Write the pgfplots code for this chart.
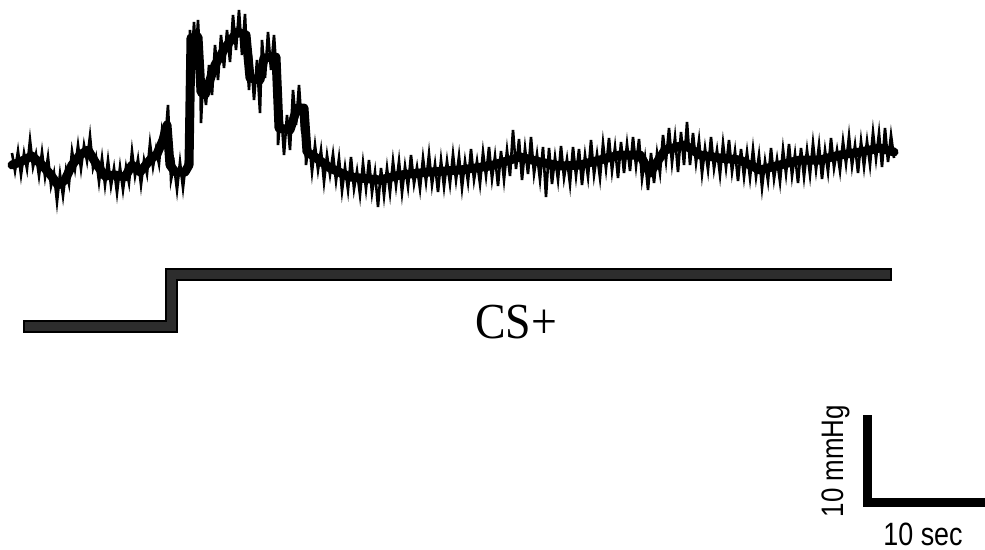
\documentclass[border=0pt]{standalone}
\usepackage{pgfplots}
\pgfplotsset{compat=1.18}
\usepackage{fontspec}
\setmainfont{Liberation Serif}
\newfontfamily\arialfont{Liberation Sans}
\definecolor{stepfill}{RGB}{45,45,45}
\begin{document}
\begin{tikzpicture}
\useasboundingbox (0,0) rectangle (985bp,550bp);
\begin{axis}[at={(0,0)}, anchor=south west, scale only axis,
  width=985bp, height=550bp, xmin=0, xmax=985, ymin=0, ymax=550,
  y dir=reverse, hide axis, clip=false]
% core of the trace
\addplot[black, line width=9bp, line join=round, line cap=round] coordinates {
(12,165)(20,162)(32,156)(42,165)(50,174)(58,185)(65,180)(72,165)(80,155)(88,150)(97,165)(105,176)(115,175)(125,177)(132,165)(140,172)(150,160)(157,154)(163,140)(167,125)(170,165)(175,172)(185,172)(189,165)(191,38)(198,37)(201,92)(205,95)(215,65)(225,48)(237,32)(246,35)(250,78)(260,80)(264,58)(276,57)(279,128)(290,130)(297,108)(304,108)(307,152)(315,157)(330,168)(350,177)(380,180)(400,175)(430,172)(460,170)(490,166)(510,160)(520,157)(540,162)(560,166)(580,165)(600,160)(620,155)(640,155)(650,173)(665,150)(685,145)(700,155)(720,158)(740,160)(760,170)(780,165)(800,160)(820,160)(840,155)(860,152)(880,148)(894,152)
};
% noisy excursions of the trace
\addplot[black, line width=2.6bp, line join=miter] coordinates {
(12,153)(15,171)(18,151)(21,175)(24,153)(27,169)(30,140)(33,167)(36,154)(39,176)
(42,152)(45,177)(48,157)(51,186)(54,173)(57,202)(60,174)(63,196)(66,170)(69,184)
(72,151)(75,169)(78,145)(81,169)(84,145)(87,161)(90,136)(93,168)(96,157)(99,182)
(102,158)(105,185)(108,160)(111,186)(114,168)(117,193)(120,167)(123,190)(126,167)(129,183)
(132,151)(135,176)(138,159)(141,185)(144,160)(147,174)(150,143)(153,167)(156,149)(159,164)
(162,130)(165,144)(168,105)(171,180)(174,165)(177,190)(180,162)(183,188)(186,161)(189,160)
(190,30)(192,60)(194,22)(196,55)(198,20)(200,62)(201,123)(203,80)(206,105)(209,65)
(212,95)(215,45)(218,80)(221,35)(224,68)(227,30)(230,62)(233,15)(236,50)(239,10)
(242,55)(245,14)(247,60)(249,90)(251,55)(254,100)(257,60)(260,113)(262,40)(265,78)
(268,32)(271,70)(274,35)(277,80)(278,145)(281,110)(284,155)(287,115)(290,150)(293,90)
(296,125)(299,85)(302,130)(305,128)(306,165)(309,140)(312,172)(315,145)(318,170)(321,150)
(324,182)(327,155)(330,175)
(333,154)(336,181)(339,158)(342,191)(345,167)(348,190)(351,157)(354,189)(357,171)(360,195)
(363,163)(366,189)(369,160)(372,193)(375,172)(378,207)(381,168)(384,196)(387,168)(390,193)
(393,161)(396,186)(399,161)(402,193)(405,166)(408,187)(411,155)(414,184)(417,167)(420,189)
(423,158)(426,182)(429,154)(432,185)(435,164)(438,192)(441,160)(444,187)(447,161)(450,184)
(453,154)(456,180)(459,156)(462,188)(465,161)(468,182)(471,149)(474,180)(477,161)(480,184)
(483,152)(486,176)(489,147)(492,179)(495,156)(498,186)(501,151)(504,180)(507,150)(510,176)
(513,130)(516,169)(519,139)(522,180)(525,148)(528,174)(531,137)(534,174)(537,154)(540,180)
(543,147)(546,197)(549,148)(552,184)(555,157)(558,180)(561,146)(564,178)(567,159)(570,184)
(573,147)(576,176)(579,149)(582,185)(585,155)(588,177)(591,140)(594,175)(597,154)(600,178)
(603,143)(606,169)(609,138)(612,171)(615,147)(618,178)(621,142)(624,173)(627,144)(630,171)
(633,137)(636,166)(639,139)(642,179)(645,158)(648,190)(651,153)(654,183)(657,153)(660,173)
(663,135)(666,161)(669,128)(672,163)(675,137)(678,172)(681,132)(684,165)(687,122)(690,165)
(693,133)(696,163)(699,140)(702,174)(705,148)(708,170)(711,137)(714,169)(717,150)(720,175)
(723,143)(726,168)(729,140)(732,172)(735,151)(738,181)(741,149)(744,177)(747,152)(750,178)
(753,149)(756,177)(759,155)(762,188)(765,161)(768,181)(771,148)(774,179)(777,159)(780,182)
(783,149)(786,174)(789,144)(792,176)(795,154)(798,183)(801,148)(804,177)(807,150)(810,175)
(813,143)(816,170)(819,145)(822,179)(825,150)(828,172)(831,138)(834,168)(837,150)(840,171)
(843,141)(846,164)(849,136)(852,166)(855,145)(858,173)(861,141)(864,167)(867,141)(870,165)
(873,132)(876,159)(879,133)(882,167)(885,128)(888,162)(891,135)(894,158)
};
% stimulus step line
\addplot[black, line width=13bp, line join=miter, line cap=butt] coordinates {
(23,326)(171,326)(171,274)(892,274)
};
\addplot[stepfill, line width=9bp, line join=miter, line cap=butt] coordinates {
(25,326)(171,326)(171,274)(890,274)
};
% scale bar
\addplot[black, line width=9bp, line join=miter, line cap=butt] coordinates {
(867,415)(867,502)(985,502)
};
\node[anchor=base, font=\fontsize{46}{50}\selectfont] at (axis cs:516,338) {\scalebox{1}[1.1]{CS+}};
\node[rotate=90, anchor=base, inner sep=0pt, font=\arialfont\fontsize{26}{30}\selectfont] at (axis cs:843,461) {\scalebox{1}[1.2]{10 mmHg}};
\node[anchor=base, inner sep=0pt, font=\arialfont\fontsize{27}{30}\selectfont] at (axis cs:923,545) {\scalebox{1}[1.2]{10 sec}};
\end{axis}
\end{tikzpicture}
\end{document}
